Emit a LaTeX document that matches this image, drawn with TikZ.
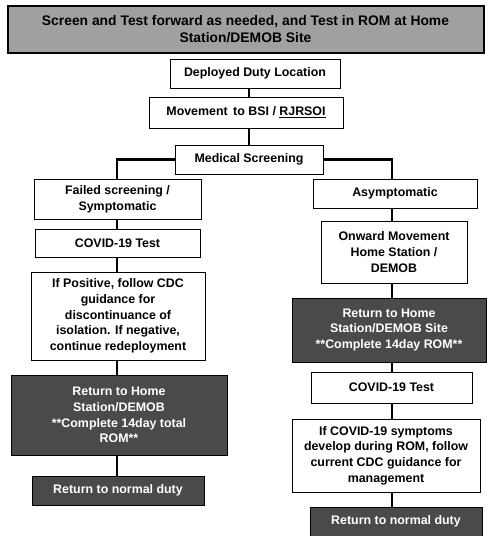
\documentclass[tikz,border=0pt]{standalone}
\usepackage{fontspec}
\setmainfont{Liberation Sans}
\usepackage{xcolor}
\usepackage{tikz}
\definecolor{bannergray}{HTML}{A0A0A0}
\definecolor{darkgray}{HTML}{4A4A4A}
% #1 style, #2 name, #3/#4 centre (px), #5/#6 width/height (px), #7 text
\newcommand{\flowbox}[7]{\node[#1,minimum width={#5*0.75pt},minimum height={#6*0.75pt}] (#2) at (#3,#4) {#7};}

\begin{document}
\begin{tikzpicture}[x=0.75pt,y=-0.75pt,line width=0.6pt,
  box/.style={draw=black,fill=white,align=center,inner sep=0.5pt,
    font=\fontsize{9.3}{11.8}\selectfont\bfseries},
  darkbox/.style={box,fill=darkgray,text=white},
  banner/.style={box,fill=bannergray,line width=1.5pt,
    font=\fontsize{10.4}{12.4}\selectfont\bfseries},
  link/.style={draw=black,line width=1.6pt}]
\useasboundingbox (0,0) rectangle (486,536);
\coordinate (lcol) at (117,0);
\coordinate (rcol) at (392,0);

\flowbox{banner}{top}{245.5}{29}{476}{47}{Screen and Test forward as needed, and Test in ROM at Home\\Station/DEMOB Site}
\flowbox{box}{deployed}{255}{73.5}{170}{29}{Deployed Duty Location}
\flowbox{box}{movement}{246}{112.5}{194}{31}{Movement\, to BSI / \underline{RJRSOI}}
\flowbox{box}{medical}{249}{159.5}{148}{29}{Medical Screening}

% left branch
\flowbox{box}{failed}{117.5}{199}{167}{40}{Failed screening /\\Symptomatic}
\flowbox{box}{covidl}{117.5}{243}{165}{28}{COVID-19 Test}
\flowbox{box}{positive}{118}{316}{174}{88}{If Positive, follow CDC\\guidance for\\discontinuance of\\isolation. If negative,\\continue redeployment}
\flowbox{darkbox}{homel}{119}{415}{216}{80}{Return to Home\\Station/DEMOB\\**Complete 14day total\\ROM**}
\flowbox{darkbox}{normall}{118}{490.5}{172}{29}{Return to normal duty}

% right branch
\flowbox{box}{asym}{395}{193.5}{164}{29}{Asymptomatic}
\flowbox{box}{onward}{394}{252}{146}{62}{Onward Movement\\Home Station /\\DEMOB}
\flowbox{darkbox}{homer}{389}{330}{194}{64}{Return to Home\\Station/DEMOB Site\\**Complete 14day ROM**}
\flowbox{box}{covidr}{391.5}{387.5}{161}{31}{COVID-19 Test}
\flowbox{box}{symptoms}{386}{455.5}{188}{73}{If COVID-19 symptoms\\develop during ROM, follow\\current CDC guidance for\\management}
\flowbox{darkbox}{normalr}{396}{521.5}{172}{29}{Return to normal duty}

% connectors
\draw[link] (deployed.south -| medical) -- (movement.north -| medical);
\draw[link] (movement.south -| medical) -- (medical.north);
\draw[link] (medical.west) -| (failed.north -| lcol);
\draw[link] (medical.east) -| (asym.north -| rcol);
\draw[link] (failed.south -| lcol) -- (covidl.north -| lcol);
\draw[link] (covidl.south -| lcol) -- (positive.north -| lcol);
\draw[link] (positive.south -| lcol) -- (homel.north -| lcol);
\draw[link] (homel.south -| lcol) -- (normall.north -| lcol);
\draw[link] (asym.south -| rcol) -- (onward.north -| rcol);
\draw[link] (onward.south -| rcol) -- (homer.north -| rcol);
\draw[link] (homer.south -| rcol) -- (covidr.north -| rcol);
\draw[link] (covidr.south -| rcol) -- (symptoms.north -| rcol);
\draw[link] (symptoms.south -| rcol) -- (normalr.north -| rcol);
\end{tikzpicture}
\end{document}
